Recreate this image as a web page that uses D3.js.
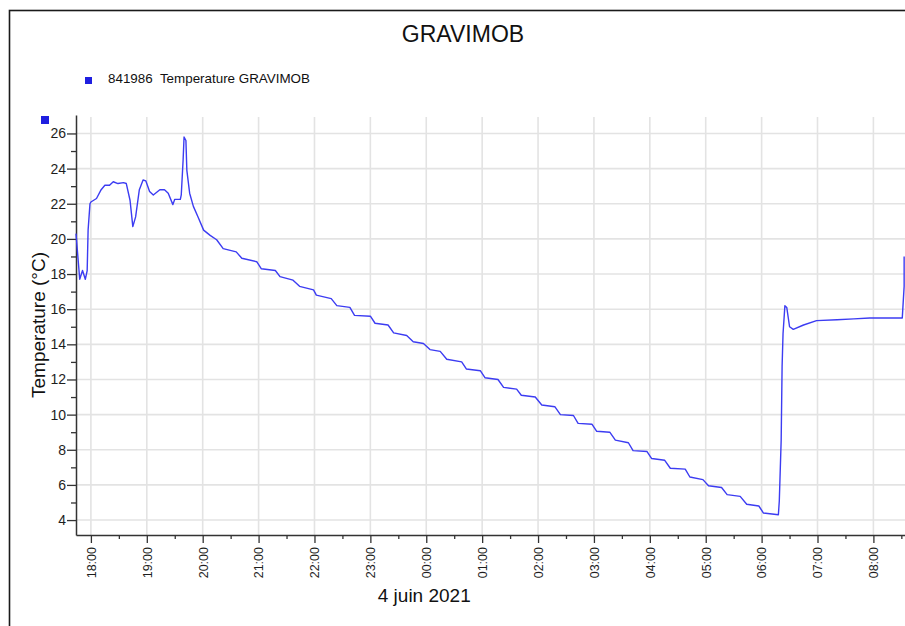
<!DOCTYPE html>
<html>
<head>
<meta charset="utf-8">
<style>
  body { margin: 0; background: #fff; }
  text { font-family: Arial, "Liberation Sans", sans-serif; }
</style>
</head>
<body>

<script src="https://cdn.jsdelivr.net/npm/d3@7"></script>

<script>

const width = 905;
const height = 626;

// readings of sensor 841986, evening of 3 June to morning of 4 June 2021
const times = [
  '17:44', '17:46', '17:48', '17:51', '17:54', '17:56', '17:57', '17:59',
  '18:00', '18:06', '18:11', '18:15', '18:20', '18:24', '18:29', '18:35',
  '18:38', '18:42', '18:45', '18:48', '18:52', '18:56', '18:59', '19:03',
  '19:07', '19:14', '19:19', '19:23', '19:28', '19:30', '19:36', '19:37',
  '19:39', '19:40', '19:42', '19:43', '19:46', '19:50', '19:55', '20:01',
  '20:08', '20:15', '20:22', '20:36', '20:42', '20:58', '21:03', '21:18',
  '21:23', '21:37', '21:44', '21:59', '22:02', '22:18', '22:24', '22:38',
  '22:43', '23:00', '23:05', '23:19', '23:25', '23:39', '23:46', '23:57',
  '00:04', '00:15', '00:22', '00:38', '00:43', '00:58', '01:03', '01:17',
  '01:23', '01:37', '01:42', '01:57', '02:04', '02:18', '02:24', '02:38',
  '02:43', '02:58', '03:03', '03:17', '03:23', '03:37', '03:42', '03:57',
  '04:02', '04:16', '04:22', '04:38', '04:43', '04:57', '05:03', '05:17',
  '05:23', '05:37', '05:44', '05:57', '06:02', '06:18', '06:19', '06:21',
  '06:22', '06:23', '06:25', '06:27', '06:30', '06:34', '06:45', '06:59',
  '07:21', '07:39', '07:56', '08:31', '08:33', '08:33'
];

const temps = [
  20.3, 19.0, 17.7, 18.2, 17.7, 18.2, 20.5, 22.0,
  22.1, 22.3, 22.8, 23.05, 23.05, 23.25, 23.15, 23.2,
  23.15, 22.2, 20.7, 21.25, 22.8, 23.35, 23.3, 22.7,
  22.5, 22.8, 22.8, 22.6, 21.95, 22.25, 22.25, 22.5,
  24.5, 25.8, 25.6, 23.9, 22.6, 21.85, 21.25, 20.5,
  20.2, 19.95, 19.45, 19.26, 18.9, 18.7, 18.3, 18.2,
  17.85, 17.65, 17.3, 17.1, 16.8, 16.6, 16.2, 16.1,
  15.65, 15.6, 15.2, 15.1, 14.65, 14.5, 14.15, 14.05,
  13.7, 13.6, 13.15, 13.0, 12.6, 12.5, 12.1, 12.0,
  11.55, 11.45, 11.1, 11.0, 10.55, 10.45, 10.0, 9.95,
  9.5, 9.45, 9.05, 9.0, 8.55, 8.4, 7.95, 7.9,
  7.5, 7.4, 6.95, 6.9, 6.45, 6.3, 5.95, 5.85,
  5.45, 5.35, 4.9, 4.8, 4.4, 4.3, 5.1, 8.55,
  12.75, 14.6, 16.2, 16.1, 15.0, 14.85, 15.1, 15.35,
  15.4, 15.45, 15.5, 15.5, 17.3, 19.0
];

const yMajor = [4, 6, 8, 10, 12, 14, 16, 18, 20, 22, 24, 26];
const yMinor = [5, 7, 9, 11, 13, 15, 17, 19, 21, 23, 25];

const title = 'GRAVIMOB';
const legendLabel = '841986  Temperature GRAVIMOB';
const yLabel = 'Temperature (°C)';
const dateLabel = '4 juin 2021';

// times before noon belong to 4 June, the rest to 3 June
const parse = d3.timeParse('%Y-%m-%d %H:%M');
const toDate = s => parse((+s.slice(0, 2) < 12 ? '2021-06-04 ' : '2021-06-03 ') + s);

const data = times.map((t, i) => ({ t: toDate(t), v: temps[i] }));

const plotLeft = 76, plotRight = 906, plotTop = 115, plotBottom = 535;

const x = d3.scaleTime()
  .domain([toDate('17:44'), toDate('08:35')])
  .range([plotLeft, plotRight]);

const y = d3.scaleLinear()
  .domain([3.15, 27.05])
  .range([plotBottom, plotTop]);

const svg = d3.select('body')
  .append('svg')
  .attr('width', width)
  .attr('height', height);

// outer frame (runs off the picture on the right and bottom)
svg.append('rect')
  .attr('x', 9.5).attr('y', 10.5)
  .attr('width', 1000).attr('height', 1000)
  .attr('fill', 'none')
  .attr('stroke', '#1a1a1a')
  .attr('stroke-width', 1.6);

svg.append('text')
  .attr('x', 463).attr('y', 42)
  .attr('text-anchor', 'middle')
  .attr('font-size', 23)
  .attr('fill', '#111')
  .text(title);

// legend
svg.append('rect')
  .attr('x', 85).attr('y', 77)
  .attr('width', 7).attr('height', 7)
  .attr('fill', '#1f1fe0');

svg.append('text')
  .attr('x', 108).attr('y', 83)
  .attr('font-size', 13.4)
  .attr('fill', '#111')
  .style('white-space', 'pre')
  .text(legendLabel);

svg.append('rect')
  .attr('x', 41).attr('y', 116)
  .attr('width', 8).attr('height', 8)
  .attr('fill', '#1f1fe0');

// grid
const hours = x.ticks(d3.timeHour.every(1));
const halfHours = x.ticks(d3.timeMinute.every(30)).filter(d => d.getMinutes() === 30);

svg.append('g')
  .selectAll('line')
  .data(hours)
  .join('line')
    .attr('x1', d => x(d)).attr('x2', d => x(d))
    .attr('y1', plotTop + 2).attr('y2', plotBottom)
    .attr('stroke', '#e3e3e3')
    .attr('stroke-width', 1.6);

svg.append('g')
  .selectAll('line')
  .data(yMajor)
  .join('line')
    .attr('x1', plotLeft).attr('x2', plotRight)
    .attr('y1', d => y(d)).attr('y2', d => y(d))
    .attr('stroke', '#e3e3e3')
    .attr('stroke-width', 1.6);

// axes
const yAxis = svg.append('g')
  .attr('transform', `translate(${plotLeft},0)`)
  .call(d3.axisLeft(y).tickValues(yMajor).tickSize(9).tickSizeOuter(0).tickPadding(1));

svg.append('g')
  .attr('transform', `translate(${plotLeft},0)`)
  .call(d3.axisLeft(y).tickValues(yMinor).tickSize(5).tickFormat(''))
  .call(g => g.select('.domain').remove());

yAxis.selectAll('text')
  .attr('font-size', 14)
  .attr('fill', '#1e1e1e');

const xAxis = svg.append('g')
  .attr('transform', `translate(0,${plotBottom})`)
  .call(d3.axisBottom(x).tickValues(hours).tickSize(8).tickSizeOuter(0)
    .tickFormat(d3.timeFormat('%H:%M')));

svg.append('g')
  .attr('transform', `translate(0,${plotBottom})`)
  .call(d3.axisBottom(x).tickValues(halfHours).tickSize(4).tickFormat(''))
  .call(g => g.select('.domain').remove());

xAxis.selectAll('text')
  .attr('font-size', 12.5)
  .attr('fill', '#1e1e1e')
  .attr('transform', 'rotate(-90)')
  .attr('text-anchor', 'end')
  .attr('x', -12)
  .attr('y', 0)
  .attr('dy', '0.35em');

svg.selectAll('.domain')
  .attr('stroke', '#333')
  .attr('stroke-width', 1.5);

svg.selectAll('.tick line')
  .attr('stroke', '#333')
  .attr('stroke-width', 1.3);

svg.append('text')
  .attr('transform', `translate(45,${(plotTop + plotBottom) / 2}) rotate(-90)`)
  .attr('text-anchor', 'middle')
  .attr('font-size', 19)
  .attr('fill', '#111')
  .text(yLabel);

svg.append('text')
  .attr('x', x(toDate('00:00')) - 2).attr('y', 602)
  .attr('text-anchor', 'middle')
  .attr('font-size', 19)
  .attr('fill', '#111')
  .text(dateLabel);

// temperature line
const line = d3.line()
  .x(d => x(d.t))
  .y(d => y(d.v));

svg.append('path')
  .datum(data)
  .attr('d', line)
  .attr('fill', 'none')
  .attr('stroke', '#3c3cf2')
  .attr('stroke-width', 1.4)
  .attr('stroke-linejoin', 'round');

</script>
</body>
</html>
